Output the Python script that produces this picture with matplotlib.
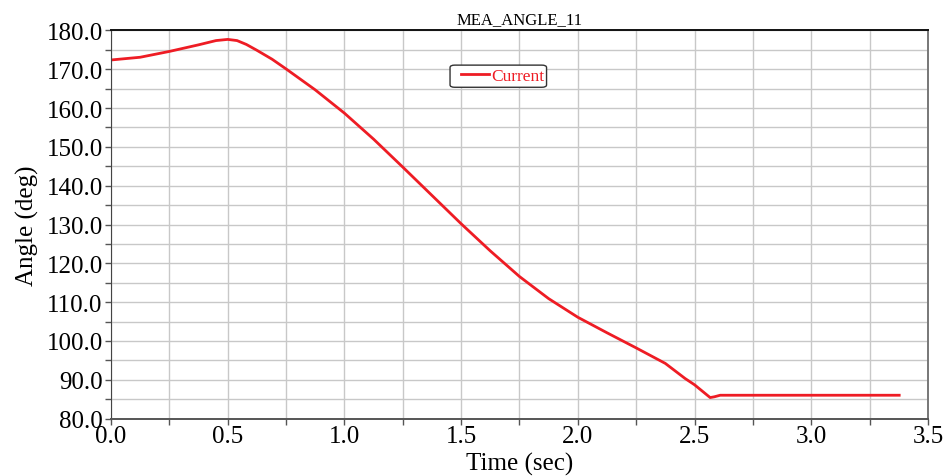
import matplotlib
matplotlib.use("Agg")
import matplotlib.pyplot as plt
from matplotlib.ticker import MultipleLocator, FormatStrFormatter
from matplotlib.patches import FancyBboxPatch

# Data
time_s = [0.0, 0.125, 0.25, 0.375, 0.45, 0.5, 0.54, 0.58, 0.625, 0.69, 0.75,
          0.875, 1.0, 1.125, 1.25, 1.375, 1.5, 1.625, 1.75, 1.875, 2.0,
          2.125, 2.25, 2.375, 2.46, 2.5, 2.567, 2.585, 2.61, 3.377]
angle_deg = [172.4, 173.1, 174.6, 176.3, 177.4, 177.7, 177.4, 176.4, 174.9, 172.6, 170.1,
             164.7, 158.7, 152.0, 144.8, 137.5, 130.2, 123.2, 116.6, 110.9, 106.1,
             102.1, 98.2, 94.2, 90.3, 88.7, 85.4, 85.6, 86.0, 86.0]
series_label = "Current"
title_text = "MEA_ANGLE_11"
x_label = "Time (sec)"
y_label = "Angle (deg)"

plt.rcParams['font.family'] = ['Liberation Serif', 'DejaVu Serif']

W, H = 943, 477
fig = plt.figure(figsize=(W / 100, H / 100), dpi=100)
ax = fig.add_axes([0.1177, 0.1205, 0.8663, 0.8135])

ax.plot(time_s, angle_deg, color='#ee1c24', lw=2.0, label=series_label,
        solid_joinstyle='round')

ax.set_xlim(0, 3.5)
ax.set_ylim(80, 180)
ax.xaxis.set_major_locator(MultipleLocator(0.5))
ax.xaxis.set_minor_locator(MultipleLocator(0.25))
ax.yaxis.set_major_locator(MultipleLocator(10))
ax.yaxis.set_minor_locator(MultipleLocator(5))
ax.xaxis.set_major_formatter(FormatStrFormatter('%.1f'))
ax.yaxis.set_major_formatter(FormatStrFormatter('%.1f'))

ax.grid(True, which='both', color='#c8c8c8', lw=1.0)
ax.set_axisbelow(True)

ax.tick_params(which='both', direction='out', length=4.5, width=1.0,
               color='#555555', labelsize=18, pad=1.5)
ax.tick_params(axis='x', which='both', top=False, pad=0)
ax.tick_params(axis='y', which='both', right=False)

ax.spines['top'].set_color('#111111')
ax.spines['top'].set_linewidth(1.4)
ax.spines['left'].set_color('#444444')
ax.spines['bottom'].set_color('#555555')
ax.spines['bottom'].set_linewidth(1.4)
ax.spines['right'].set_color('#777777')
ax.spines['right'].set_linewidth(1.4)

ax.set_title(title_text, fontsize=12, pad=5)
ax.set_xlabel(x_label, fontsize=18, labelpad=4)
ax.set_ylabel(y_label, fontsize=18, labelpad=5)

leg = ax.legend(loc='upper left', bbox_to_anchor=(0.4285, 0.903), fontsize=12.5,
                labelcolor='#ee1c24', handlelength=1.6, handletextpad=0.15,
                borderpad=0.0, borderaxespad=0, frameon=False)
leg.set_zorder(6)

# Draw legend frame around the legend, wider on the left like the reference
fig.canvas.draw()
bb = leg.get_window_extent()
x0 = (bb.x0 - 11) / W
x1 = (bb.x1 + 2) / W
y0 = (bb.y0 - 3) / H
y1 = (bb.y1 + 3) / H
frame = FancyBboxPatch((x0, y0), x1 - x0, y1 - y0,
                       boxstyle='round,pad=0,rounding_size=0.005',
                       transform=fig.transFigure, facecolor='white',
                       edgecolor='#333333', lw=1.0, zorder=5)
ax.add_artist(frame)

fig.savefig('out.png', dpi=100)
